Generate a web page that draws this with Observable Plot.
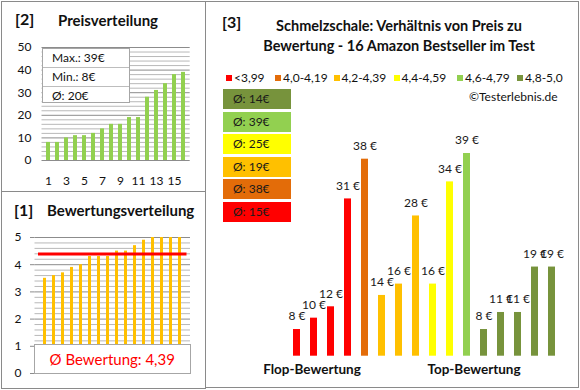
<!DOCTYPE html>
<html>
<head>
<meta charset="utf-8">
<script src="https://cdn.jsdelivr.net/npm/d3@7"></script>
<script src="https://cdn.jsdelivr.net/npm/@observablehq/plot@0.6"></script>
<style>
  html, body { margin: 0; padding: 0; background: #fff; }
  #root { position: relative; width: 580px; height: 390px; background: #fff; overflow: hidden; font-family: Lato, "Open Sans", sans-serif; color: #111; }
  .abs { position: absolute; white-space: nowrap; }
  .panel { position: absolute; border: 1.5px solid #8a8a8a; box-sizing: border-box; }
  .bold { font-weight: bold; }
  svg { position: absolute; overflow: visible; }
</style>
</head>
<body>
<div id="root"></div>
<script>
// ---------------- data ----------------
const itemIndex = [1,2,3,4,5,6,7,8,9,10,11,12,13,14,15,16];
const itemTicks = [1,3,5,7,9,11,13,15];
const priceSorted = [8,8,10,11,11,12,14,16,16,19,19,28,31,34,38,39];
const priceTicks = [0,10,20,30,40,50];
const priceStats = ["Max.: 39€", "Min.: 8€", "Ø: 20€"];

const ratingSorted = [3.5,3.6,3.7,3.9,4.0,4.3,4.3,4.3,4.5,4.5,4.7,4.9,5.0,5.0,5.0,5.0];
const ratingTicks = [0,1,2,3,4,5];
const avgRating = 4.39;
const avgRatingLabel = "Ø Bewertung: 4,39";

const productPrices = [8,10,12,31,38,14,16,28,16,34,39,8,11,11,19,19];
const productClass  = [0,0,0,0,1,2,2,2,3,3,4,5,5,5,5,5];
const classNames  = ["<3,99","4,0-4,19","4,2-4,39","4,4-4,59","4,6-4,79","4,8-5,0"];
const classColors = ["#FF0000","#E36C09","#FFC000","#FFFF00","#92D050","#77933C"];
const classAvg    = [15,38,19,25,39,14];
const groupLabels = ["Flop-Bewertung","Top-Bewertung"];

const titleLines = ["Schmelzschale: Verhältnis von Preis zu", "Bewertung - 16 Amazon Bestseller im Test"];
const copyright = "©Testerlebnis.de";

// ---------------- helpers ----------------
const root = document.getElementById("root");
function div(style, text, cls) {
  const d = document.createElement("div");
  d.className = "abs" + (cls ? " " + cls : "");
  Object.assign(d.style, style);
  if (text != null) d.textContent = text;
  root.appendChild(d);
  return d;
}
const baseStyle = {fontFamily: "Lato, 'Open Sans', sans-serif", fontSize: "12px", color: "#111", background: "transparent", overflow: "visible"};

// ---------------- panel borders ----------------
div({left: "1px", top: "1px", width: "205px", height: "191px"}, null, "panel");
div({left: "1px", top: "190.5px", width: "205px", height: "198px"}, null, "panel");
div({left: "204.5px", top: "1px", width: "374px", height: "387px"}, null, "panel");

// ---------------- panel [2] Preisverteilung ----------------
const p2 = Plot.plot({
  width: 205, height: 191,
  marginLeft: 41.5, marginRight: 15.3, marginTop: 47, marginBottom: 31,
  style: baseStyle,
  x: {type: "band", domain: itemIndex, paddingInner: 0.55, paddingOuter: 0.275, axis: null},
  y: {domain: [0, 50], axis: null},
  marks: [
    Plot.ruleY(d3.range(2, 51, 2).filter(v => v % 10 !== 0), {stroke: "#b8b8b8", strokeWidth: 1}),
    Plot.ruleY(priceTicks.filter(v => v > 0), {stroke: "#8c8c8c", strokeWidth: 1}),
    Plot.barY(priceSorted.map((v, i) => ({i: itemIndex[i], v})), {x: "i", y: "v", fill: "#92D050"}),
    Plot.ruleY([0], {stroke: "#8c8c8c", strokeWidth: 1}),
    Plot.axisY({ticks: priceTicks, tickSize: 0, tickPadding: 10.5, label: null, fontSize: 12, fill: "#111", tickFormat: d => String(d)}),
    Plot.axisX({ticks: itemTicks, tickSize: 0, tickPadding: 16, label: null, fontSize: 12, fill: "#111", tickFormat: d => String(d)})
  ]
});
p2.style.left = "0px"; p2.style.top = "0px";
root.appendChild(p2);

div({left: "15px", top: "9px", fontSize: "16px"}, "[2]", "bold");
div({left: "58px", top: "11px", fontSize: "15px"}, "Preisverteilung", "bold");

// stats box
const box = div({left: "42px", top: "48px", width: "88px", height: "55px", background: "#fff", border: "1px solid #a6a6a6", boxSizing: "border-box"});
priceStats.forEach((t, i) => {
  const r = document.createElement("div");
  Object.assign(r.style, {position: "absolute", left: "0", top: (i * 18.3) + "px", width: "86px", height: "18.3px", lineHeight: "18px", paddingLeft: "9px", boxSizing: "border-box", fontSize: "12px", borderTop: i ? "1px solid #bdbdbd" : "none"});
  r.textContent = t;
  box.appendChild(r);
});

// ---------------- panel [1] Bewertungsverteilung ----------------
const p1 = Plot.plot({
  width: 205, height: 197,
  marginLeft: 34.5, marginRight: 15, marginTop: 46, marginBottom: 15,
  style: baseStyle,
  x: {type: "band", domain: itemIndex, paddingInner: 0.64, paddingOuter: 0.32, axis: null},
  y: {domain: [0, 5], axis: null},
  marks: [
    Plot.ruleY(d3.range(0.2, 5, 0.2).filter(v => Math.abs(v - Math.round(v)) > 0.01), {stroke: "#b8b8b8", strokeWidth: 1}),
    Plot.ruleY(ratingTicks, {stroke: "#8c8c8c", strokeWidth: 1}),
    Plot.barY(ratingSorted.map((v, i) => ({i: itemIndex[i], v})), {x: "i", y: "v", fill: "#FFC000"}),
    Plot.ruleY([avgRating], {stroke: "#FF0000", strokeWidth: 3, insetLeft: 3.5, insetRight: 3.5}),
    Plot.axisY({ticks: ratingTicks, tickSize: 4.5, tickPadding: 9, label: null, fontSize: 12, stroke: "#8c8c8c", fill: "#111", tickFormat: d => String(d)})
  ]
});
p1.style.left = "0px"; p1.style.top = "191px";
root.appendChild(p1);

div({left: "14px", top: "200px", fontSize: "16px"}, "[1]", "bold");
div({left: "47px", top: "201px", fontSize: "15px"}, "Bewertungsverteilung", "bold");

div({left: "34px", top: "344px", width: "156.5px", height: "29.5px", background: "#fff", border: "1px solid #a6a6a6", boxSizing: "border-box", color: "#FF0000", fontSize: "15px", textAlign: "center", lineHeight: "28px"}, avgRatingLabel);

// ---------------- panel [3] main chart ----------------
const products = productPrices.map((p, i) => ({i: itemIndex[i], price: p, cls: productClass[i]}));
const p3 = Plot.plot({
  width: 372, height: 388,
  marginLeft: 78.9, marginRight: 14.6, marginTop: 153, marginBottom: 32.3,
  style: baseStyle,
  x: {type: "band", domain: itemIndex, paddingInner: 0.6, paddingOuter: 0.3, axis: null},
  y: {domain: [3.3, 39], clamp: true, axis: null},
  marks: [
    Plot.barY(products, {x: "i", y1: 0, y2: "price", fill: d => classColors[d.cls]}),
    Plot.text(products, {x: "i", y: "price", text: d => d.price + " €", dy: -13, fontSize: 12, fill: "#1a1a1a"})
  ]
});
p3.style.left = "206px"; p3.style.top = "0px";
root.appendChild(p3);

div({left: "222px", top: "12px", fontSize: "16px"}, "[3]", "bold");
titleLines.forEach((t, i) => {
  div({left: "399px", top: (16.5 + i * 20.3) + "px", fontSize: "14.5px", transform: "translateX(-50%)"}, t, "bold");
});

// legend row
const legSq = [226, 275, 333.5, 393.5, 457, 517];
classNames.forEach((n, i) => {
  div({left: legSq[i] + "px", top: "75px", width: "6px", height: "6px", background: classColors[i]});
  div({left: (legSq[i] + 8) + "px", top: "70px", fontSize: "12px", lineHeight: "16px"}, n);
});
div({left: "469px", top: "89px", fontSize: "12px", lineHeight: "16px"}, copyright);

// average boxes (top to bottom: reverse class order)
const boxTops = [89, 111.5, 134, 156.5, 179, 201.5];
classAvg.slice().reverse().forEach((a, k) => {
  const ci = classAvg.length - 1 - k;
  div({left: "223px", top: boxTops[k] + "px", width: "68px", height: "20px", background: classColors[ci], fontSize: "12px", lineHeight: "20px", paddingLeft: "10px", boxSizing: "border-box", color: "#1a1a1a"}, "Ø: " + a + "€");
});

// group labels
div({left: "312px", top: "361px", fontSize: "13.5px", transform: "translateX(-50%)"}, groupLabels[0], "bold");
div({left: "474px", top: "361px", fontSize: "13.5px", transform: "translateX(-50%)"}, groupLabels[1], "bold");
</script>
</body>
</html>
